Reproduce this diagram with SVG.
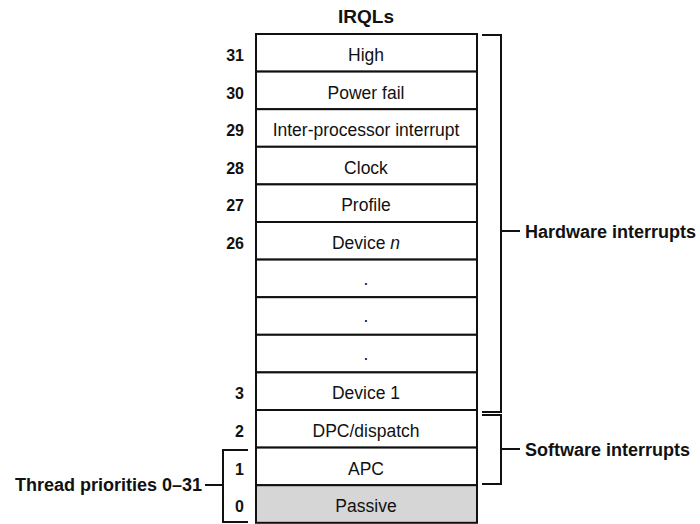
<svg xmlns="http://www.w3.org/2000/svg" width="700" height="524" viewBox="0 0 700 524">
<style>
.row{fill:#fff;stroke:#111;stroke-width:2}
.lbl{font-family:"Liberation Sans",Arial,sans-serif;font-size:17.5px;fill:#111;text-anchor:middle}
.num{font-family:"Liberation Sans",Arial,sans-serif;font-size:16px;font-weight:bold;fill:#111;text-anchor:end}
.side{font-family:"Liberation Sans",Arial,sans-serif;font-size:18px;font-weight:bold;fill:#111}
.br{fill:none;stroke:#111;stroke-width:2}
</style>
<rect width="700" height="524" fill="#fff"/>
<text x="366" y="23" class="side" text-anchor="middle" style="font-size:19px">IRQLs</text>
<g id="r31"><rect class="row" x="256" y="34" width="221" height="37.6"/><text class="lbl" x="366" y="61">High</text><text class="num" x="244" y="61">31</text></g>
<g id="r30"><rect class="row" x="256" y="71.6" width="221" height="37.6"/><text class="lbl" x="366" y="98.6">Power fail</text><text class="num" x="244" y="98.6">30</text></g>
<g id="r29"><rect class="row" x="256" y="109.2" width="221" height="37.6"/><text class="lbl" x="366" y="136.2">Inter-processor interrupt</text><text class="num" x="244" y="136.2">29</text></g>
<g id="r28"><rect class="row" x="256" y="146.8" width="221" height="37.6"/><text class="lbl" x="366" y="173.8">Clock</text><text class="num" x="244" y="173.8">28</text></g>
<g id="r27"><rect class="row" x="256" y="184.4" width="221" height="37.6"/><text class="lbl" x="366" y="211.4">Profile</text><text class="num" x="244" y="211.4">27</text></g>
<g id="r26"><rect class="row" x="256" y="222" width="221" height="37.6"/><text class="lbl" x="366" y="249">Device <tspan font-style="italic">n</tspan></text><text class="num" x="244" y="249">26</text></g>
<g id="rd1"><rect class="row" x="256" y="259.6" width="221" height="37.6"/><text class="lbl" x="366" y="284.6">.</text></g>
<g id="rd2"><rect class="row" x="256" y="297.2" width="221" height="37.6"/><text class="lbl" x="366" y="322.2">.</text></g>
<g id="rd3"><rect class="row" x="256" y="334.8" width="221" height="37.6"/><text class="lbl" x="366" y="359.8">.</text></g>
<g id="r3"><rect class="row" x="256" y="372.4" width="221" height="37.6"/><text class="lbl" x="366" y="399.4">Device 1</text><text class="num" x="244" y="399.4">3</text></g>
<g id="r2"><rect class="row" x="256" y="410" width="221" height="37.6"/><text class="lbl" x="366" y="437">DPC/dispatch</text><text class="num" x="244" y="437">2</text></g>
<g id="r1"><rect class="row" x="256" y="447.6" width="221" height="37.6"/><text class="lbl" x="366" y="474.6">APC</text><text class="num" x="244" y="474.6">1</text></g>
<g id="r0"><rect class="row" x="256" y="485.2" width="221" height="37.6" style="fill:#d6d6d6"/><text class="lbl" x="366" y="512.2">Passive</text><text class="num" x="244" y="512.2">0</text></g>
<g id="connectors">
<path class="br" d="M482 35H501V412H482M501 231H520"/>
<path class="br" d="M482 415H501V484H482M501 449H520"/>
<path class="br" d="M248 450H223V522H248M223 485H205"/>
</g>
<g id="hw"><text class="side" x="525" y="238">Hardware interrupts</text></g>
<g id="sw"><text class="side" x="525" y="456">Software interrupts</text></g>
<g id="tp"><text class="side" x="202" y="491" text-anchor="end">Thread priorities 0–31</text></g>
</svg>
